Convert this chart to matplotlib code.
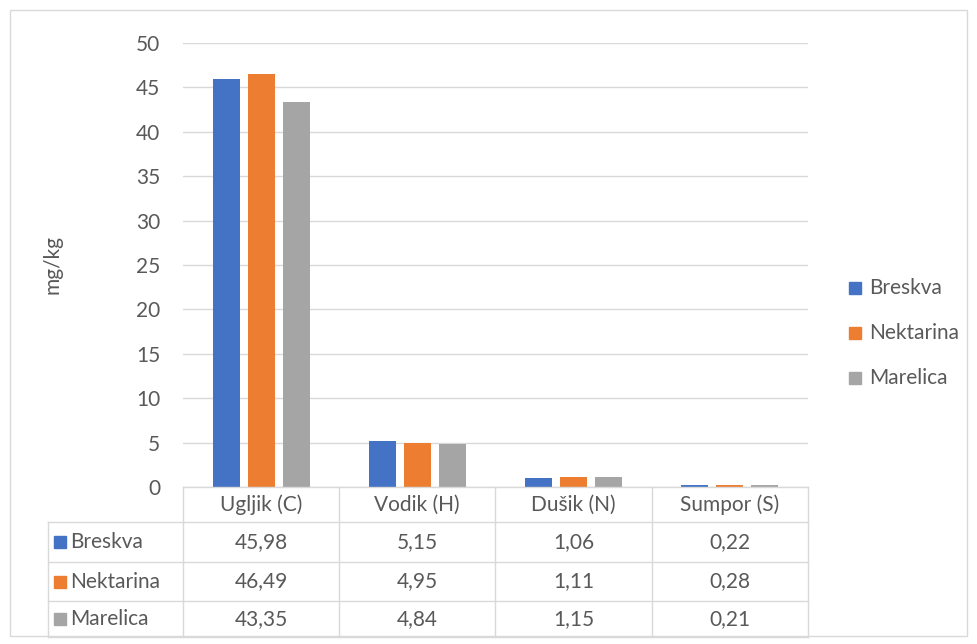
import numpy as np
import matplotlib.pyplot as plt
from matplotlib.lines import Line2D
from matplotlib.patches import Rectangle

categories = ['Ugljik (C)', 'Vodik (H)', 'Dušik (N)', 'Sumpor (S)']
series = ['Breskva', 'Nektarina', 'Marelica']
breskva = [45.98, 5.15, 1.06, 0.22]
nektarina = [46.49, 4.95, 1.11, 0.28]
marelica = [43.35, 4.84, 1.15, 0.21]
labels_b = ['45,98', '5,15', '1,06', '0,22']
labels_n = ['46,49', '4,95', '1,11', '0,28']
labels_m = ['43,35', '4,84', '1,15', '0,21']
colors = ['#4472C4', '#ED7D31', '#A5A5A5']

plt.rcParams['font.family'] = ['Lato', 'DejaVu Sans']
txt = '#595959'
grid = '#D9D9D9'
fs = 15

W, H = 977, 644
fig = plt.figure(figsize=(W / 100, H / 100), dpi=100)

def fx(px):
    return px / W

def fy(py):
    return 1 - py / H

# chart border
fig.add_artist(Rectangle((fx(10), fy(636)), fx(957), (626) / H, fill=False,
                         edgecolor=grid, lw=1, transform=fig.transFigure))

left, right, top, bottom = 183, 808, 43, 487
ax = fig.add_axes([fx(left), fy(bottom), fx(right - left), (bottom - top) / H])
x = np.arange(len(categories))
w = 0.173
step = 0.224
for i, vals in enumerate([breskva, nektarina, marelica]):
    ax.bar(x + (i - 1) * step, vals, width=w, color=colors[i], label=series[i],
           zorder=3)
ax.set_xlim(-0.5, 3.5)
ax.set_ylim(0, 50)
ax.set_yticks(range(0, 51, 5))
ax.yaxis.grid(True, color=grid, lw=1, zorder=0)
ax.set_xticks([])
ax.tick_params(axis='y', length=0, labelsize=fs, labelcolor=txt, pad=16.5)
for s in ax.spines.values():
    s.set_visible(False)
ax.set_ylabel('mg/kg', fontsize=fs, color=txt)
ax.yaxis.set_label_coords((62 - left) / (right - left), 0.5)

# data table
row_y = [487, 522, 562, 601, 637]
col_x = [48, 183, 339, 495, 652, 808]
for yy in row_y:
    x0 = col_x[1] if yy == row_y[0] else col_x[0]
    fig.add_artist(Line2D([fx(x0), fx(col_x[-1])], [fy(yy), fy(yy)], color=grid, lw=1))
for j, xx in enumerate(col_x):
    y0 = row_y[1] if j == 0 else row_y[0]
    fig.add_artist(Line2D([fx(xx), fx(xx)], [fy(y0), fy(row_y[-1])], color=grid, lw=1))

for j, c in enumerate(categories):
    fig.text(fx((col_x[j + 1] + col_x[j + 2]) / 2), fy((row_y[0] + row_y[1]) / 2), c,
             ha='center', va='center', fontsize=fs, color=txt)
for i, labs in enumerate([labels_b, labels_n, labels_m]):
    yc = fy((row_y[i + 1] + row_y[i + 2]) / 2)
    fig.add_artist(Rectangle((fx(54), yc - 6 / H), fx(12), 12 / H, color=colors[i],
                             transform=fig.transFigure))
    fig.text(fx(70), yc, series[i], ha='left', va='center', fontsize=fs, color=txt)
    for j, lab in enumerate(labs):
        fig.text(fx((col_x[j + 1] + col_x[j + 2]) / 2), yc, lab,
                 ha='center', va='center', fontsize=fs, color=txt)

# legend
for i, s in enumerate(series):
    yc = fy(288 + 45 * i)
    fig.add_artist(Rectangle((fx(849), yc - 6 / H), fx(12), 12 / H, color=colors[i],
                             transform=fig.transFigure))
    fig.text(fx(869), yc, s, ha='left', va='center', fontsize=fs, color=txt)

fig.savefig('out.png', dpi=100)
